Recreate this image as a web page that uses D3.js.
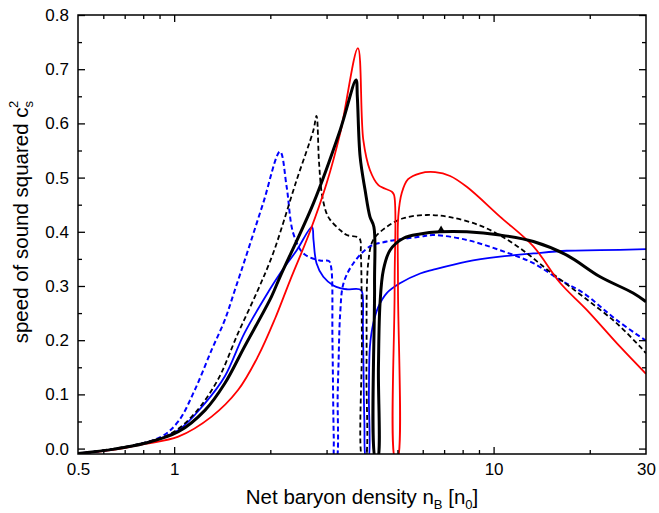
<!DOCTYPE html>
<html>
<head>
<meta charset="utf-8">
<script src="https://cdn.jsdelivr.net/npm/d3@7"></script>
<style>
  body { margin: 0; background: #fff; }
  text { font-family: Arial, "Liberation Sans", sans-serif; fill: #000; }
</style>
</head>
<body>
<svg width="659" height="513"></svg>
<script>
// [n_B / n_0, c_s^2]
const redLine = [[0.5,-0.009],[0.65,-0.002],[0.809,0.0085],[1.03,0.022],[1.31,0.059],[1.585,0.108],[1.83,0.170],[2.07,0.240],[2.305,0.310],[2.66,0.400],[3.00,0.489],[3.31,0.582],[3.76,0.739],[3.91,0.569],[4.10,0.514],[4.36,0.486],[4.80,0.474],[4.88,0.468],[4.90,0.3],[4.92,-0.02],[5.00,-0.02],[5.02,0.3],[5.03,0.428],[5.16,0.472],[5.40,0.497],[5.89,0.508],[6.56,0.510],[7.31,0.503],[8.24,0.483],[10.47,0.428],[13.32,0.373],[16.14,0.306],[19.57,0.256],[24.88,0.188],[30,0.138]];
const blackSolid = [[0.5,-0.009],[0.65,-0.001],[0.809,0.0098],[1.03,0.031],[1.25,0.071],[1.44,0.120],[1.66,0.188],[2.015,0.280],[2.145,0.317],[2.73,0.453],[3.31,0.588],[3.71,0.680],[3.745,0.649],[3.82,0.539],[3.96,0.477],[4.10,0.428],[4.22,0.409],[4.24,0.3],[4.27,-0.02],[4.33,-0.02],[4.36,0.15],[4.41,0.268],[4.52,0.330],[4.74,0.366],[5.22,0.388],[5.89,0.396],[6.80,0.400],[8.24,0.400],[10.47,0.394],[13.32,0.382],[16.94,0.357],[21.55,0.317],[27.33,0.287],[30,0.271]];
const blackDashed = [[0.5,-0.009],[0.65,0.0],[0.809,0.011],[0.98,0.028],[1.16,0.065],[1.37,0.127],[1.585,0.213],[1.83,0.293],[2.04,0.360],[2.42,0.496],[2.73,0.588],[2.79,0.614],[2.84,0.53],[2.90,0.47],[3.00,0.434],[3.08,0.422],[3.31,0.403],[3.47,0.394],[3.80,0.388],[3.84,0.36],[3.87,0.2],[3.89,-0.02],[3.96,-0.02],[4.00,0.15],[4.05,0.342],[4.20,0.385],[4.63,0.409],[5.22,0.425],[6.18,0.431],[7.31,0.427],[9.29,0.409],[11.82,0.374],[15.03,0.326],[19.10,0.280],[24.30,0.231],[28.74,0.188],[30,0.176]];
const blueSolid = [[0.5,-0.009],[0.65,-0.001],[0.809,0.010],[1.03,0.034],[1.25,0.084],[1.44,0.133],[1.66,0.213],[1.99,0.293],[2.145,0.323],[2.42,0.366],[2.70,0.409],[2.73,0.385],[2.79,0.342],[2.93,0.317],[3.15,0.301],[3.31,0.296],[3.47,0.294],[3.80,0.294],[3.87,0.290],[3.90,0.22],[3.94,0.05],[3.99,-0.02],[4.05,-0.02],[4.07,0.1],[4.10,0.188],[4.20,0.231],[4.36,0.262],[4.63,0.287],[5.09,0.305],[5.89,0.323],[6.48,0.330],[8.24,0.345],[10.47,0.354],[13.32,0.360],[16.94,0.365],[21.55,0.366],[30,0.368]];
const blueDashed = [[0.5,-0.010],[0.717,0.0035],[0.912,0.022],[1.03,0.050],[1.16,0.108],[1.31,0.182],[1.44,0.237],[1.55,0.293],[1.69,0.360],[1.90,0.453],[2.145,0.548],[2.25,0.483],[2.36,0.397],[2.54,0.360],[2.86,0.347],[3.05,0.346],[3.10,0.335],[3.13,0.2],[3.16,0.02],[3.18,-0.02],[3.22,-0.02],[3.25,0.1],[3.27,0.157],[3.31,0.250],[3.39,0.305],[3.64,0.342],[4.10,0.373],[4.63,0.382],[5.89,0.391],[6.48,0.394],[8.24,0.385],[10.47,0.366],[13.32,0.342],[16.14,0.311],[19.10,0.287],[24.30,0.237],[30,0.199]];
const blackMarker = [[6.85, 0.404]];

const xLabelTicks = [0.5, 1, 10, 30];
const xMajorTicks = [1, 10];
const xMinorTicks = [0.6, 0.7, 0.8, 0.9, 2, 3, 4, 5, 6, 7, 8, 9, 20];
const yMajorTicks = [0, 0.1, 0.2, 0.3, 0.4, 0.5, 0.6, 0.7, 0.8];
const yMinorTicks = [0.05, 0.15, 0.25, 0.35, 0.45, 0.55, 0.65, 0.75];

const svg = d3.select("svg");
const margin = { top: 15, right: 13, bottom: 59, left: 78 };
const width = +svg.attr("width") - margin.left - margin.right;
const height = +svg.attr("height") - margin.top - margin.bottom;
const g = svg.append("g").attr("transform", `translate(${margin.left}, ${margin.top})`);

const x = d3.scaleLog().domain([0.5, 30]).range([0, width]);
const y = d3.scaleLinear().domain([-0.01, 0.8]).range([height, 0]);

g.append("clipPath").attr("id", "plot")
    .append("rect").attr("width", width).attr("height", height);

const line = d3.line()
    .x(d => x(d[0]))
    .y(d => y(d[1]))
    .curve(d3.curveCatmullRom.alpha(0.5));

const series = [
    { data: blueDashed, color: "#0000ff", w: 2, dash: "5,3" },
    { data: blueSolid, color: "#0000ff", w: 1.8, dash: null },
    { data: blackDashed, color: "#000", w: 1.8, dash: "5,3" },
    { data: redLine, color: "#ff0000", w: 1.8, dash: null },
    { data: blackSolid, color: "#000", w: 3, dash: null }
];

const plot = g.append("g").attr("clip-path", "url(#plot)");
plot.selectAll("path.curve")
    .data(series)
    .enter().append("path")
    .attr("class", "curve")
    .attr("fill", "none")
    .attr("stroke", d => d.color)
    .attr("stroke-width", d => d.w)
    .attr("stroke-dasharray", d => d.dash)
    .attr("d", d => line(d.data));

plot.selectAll("path.marker")
    .data(blackMarker)
    .enter().append("path")
    .attr("class", "marker")
    .attr("transform", d => `translate(${x(d[0])}, ${y(d[1])})`)
    .attr("d", d3.symbol().type(d3.symbolTriangle).size(22))
    .attr("fill", "#000");

// axes: ticks point inward on all four sides
function styleAxis(sel) {
    sel.select(".domain").remove();
    sel.selectAll("line").attr("stroke", "#000").attr("stroke-width", 1.3);
    sel.selectAll("text").attr("font-size", 17).attr("font-family", "Arial, 'Liberation Sans', sans-serif");
}

g.append("g").attr("transform", `translate(0, ${height})`)
    .call(d3.axisBottom(x).tickValues(xLabelTicks).tickSize(0).tickPadding(9).tickFormat(d3.format("")))
    .call(styleAxis);
g.append("g").attr("transform", `translate(0, ${height})`)
    .call(d3.axisBottom(x).tickValues(xMajorTicks).tickSize(-7).tickFormat(""))
    .call(styleAxis);
g.append("g").attr("transform", `translate(0, ${height})`)
    .call(d3.axisBottom(x).tickValues(xMinorTicks).tickSize(-4).tickFormat(""))
    .call(styleAxis);
g.append("g")
    .call(d3.axisTop(x).tickValues(xMajorTicks).tickSize(-7).tickFormat(""))
    .call(styleAxis);
g.append("g")
    .call(d3.axisTop(x).tickValues(xMinorTicks).tickSize(-4).tickFormat(""))
    .call(styleAxis);

g.append("g")
    .call(d3.axisLeft(y).tickValues(yMajorTicks).tickSize(-7).tickPadding(9).tickFormat(d3.format(".1f")))
    .call(styleAxis);
g.append("g")
    .call(d3.axisLeft(y).tickValues(yMinorTicks).tickSize(-4).tickFormat(""))
    .call(styleAxis);
g.append("g").attr("transform", `translate(${width}, 0)`)
    .call(d3.axisRight(y).tickValues(yMajorTicks).tickSize(-7).tickFormat(""))
    .call(styleAxis);
g.append("g").attr("transform", `translate(${width}, 0)`)
    .call(d3.axisRight(y).tickValues(yMinorTicks).tickSize(-4).tickFormat(""))
    .call(styleAxis);

g.append("rect")
    .attr("width", width).attr("height", height)
    .attr("fill", "none").attr("stroke", "#000").attr("stroke-width", 1.5);

// axis titles
const xt = svg.append("text")
    .attr("x", margin.left + width / 2).attr("y", 504)
    .attr("text-anchor", "middle").attr("font-size", 20.5);
xt.append("tspan").text("Net baryon density n");
xt.append("tspan").attr("font-size", 13).attr("dy", 5).text("B");
xt.append("tspan").attr("dy", -5).text(" [n");
xt.append("tspan").attr("font-size", 13).attr("dy", 5).text("0");
xt.append("tspan").attr("dy", -5).text("]");

const yt = svg.append("text")
    .attr("transform", `translate(28, 222) rotate(-90)`)
    .attr("text-anchor", "middle").attr("font-size", 20.5);
yt.append("tspan").text("speed of sound squared c");
yt.append("tspan").attr("font-size", 13).attr("dy", 5).text("s");
yt.append("tspan").attr("font-size", 13).attr("dx", -7).attr("dy", -15).text("2");
</script>
</body>
</html>
